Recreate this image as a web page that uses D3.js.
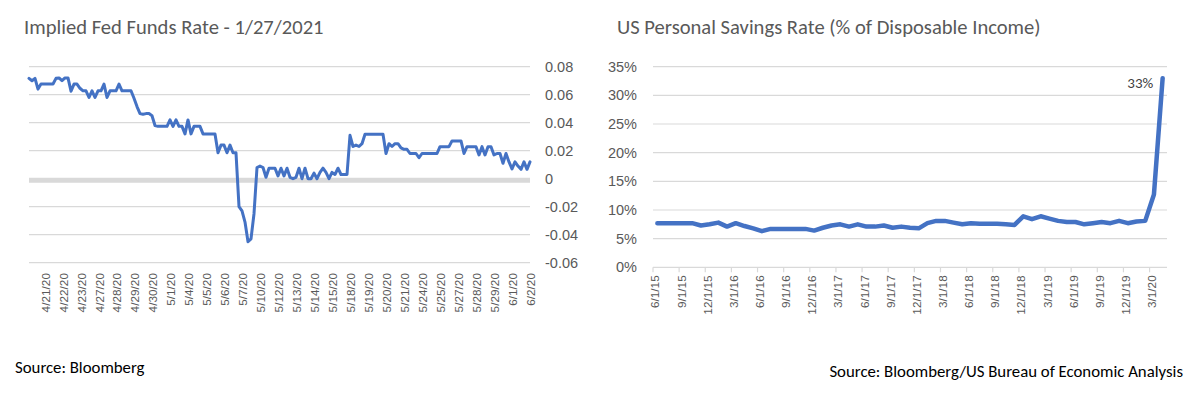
<!DOCTYPE html>
<html lang="en">

<head>
    <meta charset="UTF-8">
    <title>Fed Funds and Savings Rate</title>
    <script src="https://cdn.jsdelivr.net/npm/d3@7/dist/d3.min.js"></script>
    <style>
        body {
            margin: 0;
            background: #fff;
        }

        svg {
            display: block;
            font-family: Carlito, Calibri, Lato, sans-serif;
        }

        .grid line {
            stroke: #d9d9d9;
            stroke-width: 1.2px;
        }

        .line {
            fill: none;
            stroke: #4472c4;
            stroke-linejoin: round;
            stroke-linecap: round;
        }

        .axis text {
            fill: #595959;
        }
    </style>
</head>

<body>
    <script>
        // ---- Implied Fed Funds Rate (left) ----
        const fedDateLabels = ["4/21/20", "4/22/20", "4/23/20", "4/27/20", "4/28/20", "4/29/20", "4/30/20",
            "5/1/20", "5/4/20", "5/5/20", "5/6/20", "5/7/20", "5/10/20", "5/12/20", "5/13/20", "5/14/20",
            "5/15/20", "5/18/20", "5/19/20", "5/20/20", "5/21/20", "5/24/20", "5/25/20", "5/27/20",
            "5/28/20", "5/29/20", "6/1/20", "6/2/20"];

        // intraday readings, evenly spaced along the axis
        const fedRate = [
            0.0717, 0.0700, 0.0717, 0.0640, 0.0676, 0.0676, 0.0676, 0.0676, 0.0676, 0.0717,
            0.0720, 0.0700, 0.0720, 0.0720, 0.0625, 0.0676, 0.0676, 0.0646, 0.0628, 0.0628,
            0.0580, 0.0628, 0.0580, 0.0628, 0.0628, 0.0676, 0.0580, 0.0628, 0.0628, 0.0628,
            0.0676, 0.0628, 0.0628, 0.0628, 0.0628, 0.0575, 0.0515, 0.0465, 0.0460, 0.0465,
            0.0465, 0.0450, 0.0380, 0.0374, 0.0374, 0.0374, 0.0374, 0.0420, 0.0374, 0.0420,
            0.0374, 0.0374, 0.0320, 0.0420, 0.0320, 0.0374, 0.0374, 0.0374, 0.0320, 0.0320,
            0.0320, 0.0320, 0.0320, 0.0185, 0.0240, 0.0240, 0.0185, 0.0240, 0.0185, 0.0185,
            -0.0200, -0.0230, -0.0310, -0.0450, -0.0430, -0.0250, 0.0080, 0.0090, 0.0080, 0.0010,
            0.0075, 0.0075, 0.0075, 0.0020, 0.0075, 0.0020, 0.0075, 0.0010, 0.0000, 0.0010,
            0.0075, 0.0000, 0.0075, 0.0000, 0.0000, 0.0040, 0.0000, 0.0045, 0.0075, 0.0045,
            0.0000, 0.0045, 0.0030, 0.0075, 0.0030, 0.0030, 0.0030, 0.0310, 0.0230, 0.0240,
            0.0230, 0.0250, 0.0317, 0.0317, 0.0317, 0.0317, 0.0317, 0.0317, 0.0317, 0.0180,
            0.0250, 0.0230, 0.0250, 0.0250, 0.0220, 0.0210, 0.0210, 0.0180, 0.0180, 0.0180,
            0.0150, 0.0180, 0.0180, 0.0180, 0.0180, 0.0180, 0.0180, 0.0229, 0.0229, 0.0229,
            0.0229, 0.0270, 0.0270, 0.0270, 0.0270, 0.0180, 0.0229, 0.0229, 0.0229, 0.0229,
            0.0170, 0.0229, 0.0170, 0.0229, 0.0229, 0.0170, 0.0180, 0.0180, 0.0110, 0.0180,
            0.0120, 0.0070, 0.0120, 0.0090, 0.0067, 0.0120, 0.0067, 0.0120
        ];
        const fedTicks = [-0.06, -0.04, -0.02, 0, 0.02, 0.04, 0.06, 0.08];

        // ---- US Personal Savings Rate (right), monthly Jun 2015 - Apr 2020 ----
        const savingsStart = new Date(2015, 5, 1);
        const savingsRate = [
            7.7, 7.7, 7.7, 7.7, 7.7, 7.3, 7.5, 7.8, 7.1, 7.7,
            7.2, 6.8, 6.3, 6.7, 6.7, 6.7, 6.7, 6.7, 6.4, 6.9,
            7.3, 7.5, 7.1, 7.5, 7.1, 7.1, 7.3, 6.9, 7.1, 6.9,
            6.8, 7.7, 8.1, 8.1, 7.8, 7.5, 7.7, 7.6, 7.6, 7.6,
            7.5, 7.4, 8.9, 8.4, 8.9, 8.5, 8.1, 7.9, 7.9, 7.5,
            7.7, 7.9, 7.7, 8.1, 7.7, 8.0, 8.1, 12.7, 33.0
        ];
        const savingsTicks = [0, 5, 10, 15, 20, 25, 30, 35];

        const width = 1197, height = 393;
        const svg = d3.select("body").append("svg")
            .attr("width", width)
            .attr("height", height);

        // ================= left chart =================
        const left = { x0: 29, x1: 530, y0: 262.7, y1: 66.7 };

        const fx = d3.scaleLinear()
            .domain([0, fedRate.length - 1])
            .range([left.x0, left.x1]);
        const fy = d3.scaleLinear()
            .domain([-0.06, 0.08])
            .range([left.y0, left.y1]);
        const fLabels = d3.scalePoint()
            .domain(fedDateLabels)
            .range([45, 530]);

        // gridlines
        svg.append("g").attr("class", "grid")
            .selectAll("line")
            .data(fedTicks.filter(d => d !== 0))
            .join("line")
            .attr("x1", left.x0).attr("x2", left.x1)
            .attr("y1", d => fy(d)).attr("y2", d => fy(d));

        // zero axis line (thick)
        svg.append("line")
            .attr("x1", left.x0).attr("x2", left.x1)
            .attr("y1", fy(0) + 1.5).attr("y2", fy(0) + 1.5)
            .attr("stroke", "#d9d9d9")
            .attr("stroke-width", 5);

        // y axis on the right
        const fAxisY = svg.append("g")
            .attr("class", "axis")
            .attr("transform", `translate(${left.x1 + 9},0)`)
            .call(d3.axisRight(fy).tickValues(fedTicks).tickSize(0)
                .tickFormat(d => d === 0 ? "0" : d.toFixed(2)));
        fAxisY.select(".domain").remove();
        fAxisY.selectAll("text").style("font-size", "14.5px").attr("x", 6);

        // x axis labels
        const fAxisX = svg.append("g")
            .attr("class", "axis")
            .attr("transform", `translate(0,267)`)
            .call(d3.axisBottom(fLabels).tickSize(0));
        fAxisX.select(".domain").remove();
        fAxisX.selectAll("text")
            .attr("transform", "rotate(-90)")
            .attr("x", -6)
            .attr("y", 0)
            .attr("dy", "0.35em")
            .style("text-anchor", "end")
            .style("font-size", "11.8px");

        const fedLine = d3.line()
            .x((d, i) => fx(i))
            .y(d => fy(d));

        svg.append("path")
            .datum(fedRate)
            .attr("class", "line")
            .attr("stroke-width", 3)
            .attr("d", fedLine);

        svg.append("text")
            .attr("x", 24).attr("y", 33.5)
            .attr("fill", "#595959")
            .style("font-size", "20.6px")
            .text("Implied Fed Funds Rate - 1/27/2021");

        svg.append("text")
            .attr("x", 15).attr("y", 373)
            .attr("fill", "#000")
            .style("font-size", "16.8px")
            .text("Source: Bloomberg");

        // ================= right chart =================
        const right = { x0: 653, x1: 1167, y0: 267.3, y1: 66.7 };

        const months = d3.timeMonth.range(savingsStart, d3.timeMonth.offset(savingsStart, savingsRate.length));
        const sx = d3.scaleBand()
            .domain(months)
            .range([right.x0, right.x1])
            .paddingInner(0).paddingOuter(0);
        const sy = d3.scaleLinear()
            .domain([0, 35])
            .range([right.y0, right.y1]);

        svg.append("g").attr("class", "grid")
            .selectAll("line")
            .data(savingsTicks)
            .join("line")
            .attr("x1", right.x0).attr("x2", right.x1)
            .attr("y1", d => sy(d)).attr("y2", d => sy(d));

        const quarterMonths = months.filter((d, i) => i % 3 === 0);

        // tick marks on category boundaries
        svg.append("g").attr("class", "grid")
            .selectAll("line")
            .data(quarterMonths)
            .join("line")
            .attr("x1", d => sx(d)).attr("x2", d => sx(d))
            .attr("y1", sy(0)).attr("y2", sy(0) + 5);

        const sAxisY = svg.append("g")
            .attr("class", "axis")
            .attr("transform", `translate(${right.x0 - 10},0)`)
            .call(d3.axisLeft(sy).tickValues(savingsTicks).tickSize(0)
                .tickFormat(d => d + "%"));
        sAxisY.select(".domain").remove();
        sAxisY.selectAll("text").style("font-size", "14.5px").attr("x", -6);

        const sAxisX = svg.append("g")
            .attr("class", "axis")
            .attr("transform", `translate(0,${sy(0)})`)
            .call(d3.axisBottom(sx).tickValues(quarterMonths).tickSize(0)
                .tickFormat(d3.timeFormat("%-m/%-d/%y")));
        sAxisX.select(".domain").remove();
        sAxisX.selectAll("text")
            .attr("transform", "rotate(-90)")
            .attr("x", -8)
            .attr("y", -2)
            .attr("dy", "0.35em")
            .style("text-anchor", "end")
            .style("font-size", "11.8px");

        const savingsLine = d3.line()
            .x((d, i) => sx(months[i]) + sx.bandwidth() / 2)
            .y(d => sy(d));

        svg.append("path")
            .datum(savingsRate)
            .attr("class", "line")
            .attr("stroke-width", 4.5)
            .attr("d", savingsLine);

        // data label on last point
        const lastIdx = savingsRate.length - 1;
        svg.append("text")
            .attr("x", sx(months[lastIdx]) - 5)
            .attr("y", sy(savingsRate[lastIdx]) + 10)
            .attr("text-anchor", "end")
            .attr("fill", "#404040")
            .style("font-size", "15px")
            .text(Math.round(savingsRate[lastIdx]) + "%");

        svg.append("text")
            .attr("x", 617).attr("y", 33.5)
            .attr("fill", "#595959")
            .style("font-size", "20.6px")
            .text("US Personal Savings Rate (% of Disposable Income)");

        svg.append("text")
            .attr("x", 1183).attr("y", 377)
            .attr("text-anchor", "end")
            .attr("fill", "#000")
            .style("font-size", "16.8px")
            .text("Source: Bloomberg/US Bureau of Economic Analysis");
    </script>
</body>

</html>
